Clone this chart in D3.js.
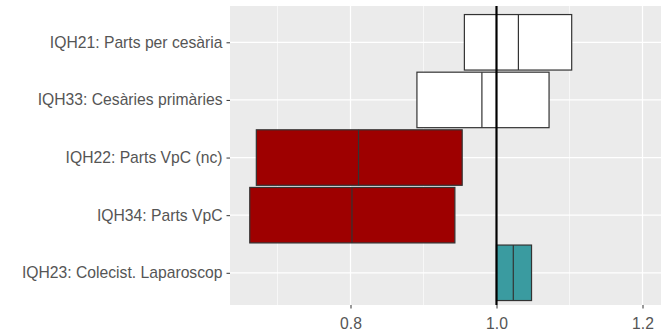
<!DOCTYPE html>
<html>
<head>
<meta charset="utf-8">
<script src="https://cdn.jsdelivr.net/npm/d3@7"></script>
<style>
  html, body { margin: 0; padding: 0; background: #ffffff; }
  svg { display: block; }
  text { font-family: "Liberation Sans", Arial, sans-serif; }
</style>
</head>
<body>
<script>
// Indicators, top to bottom
const indicators = [
  "IQH21: Parts per cesària",
  "IQH33: Cesàries primàries",
  "IQH22: Parts VpC (nc)",
  "IQH34: Parts VpC",
  "IQH23: Colecist. Laparoscop"
];
// Interval bounds and central estimate per indicator
const lower  = [0.956, 0.891, 0.671, 0.662, 1.000];
const median = [1.030, 0.980, 0.811, 0.802, 1.023];
const upper  = [1.103, 1.072, 0.953, 0.943, 1.048];
// Result class: 0 = no difference, 1 = worse, 2 = better
const status = [0, 0, 1, 1, 2];
const statusFill = ["#ffffff", "#9e0000", "#3a9ba0"];

const majorTicks = [0.8, 1.0, 1.2];
const minorTicks = [0.7, 0.9, 1.1, 1.3];
const refValue = 1.0;

const W = 661, H = 334;
const panel = { left: 230, top: 6, right: 661, bottom: 305 };

const svg = d3.select("body").append("svg")
  .attr("width", W).attr("height", H);

const x = d3.scaleLinear().domain([0.8, 1.2]).range([350.5, 642.5]);
const y = d3.scalePoint().domain(indicators).range([42.3, 272.8]);
const step = y.step();
const boxH = step * 0.963;

// panel background
svg.append("rect")
  .attr("x", panel.left).attr("y", panel.top)
  .attr("width", panel.right - panel.left)
  .attr("height", panel.bottom - panel.top)
  .attr("fill", "#ebebeb");

const grid = svg.append("g");
grid.selectAll("line.minor").data(minorTicks).join("line")
  .attr("class", "minor")
  .attr("x1", d => x(d)).attr("x2", d => x(d))
  .attr("y1", panel.top).attr("y2", panel.bottom)
  .attr("stroke", "#ffffff").attr("stroke-width", 0.6);
grid.selectAll("line.majorx").data(majorTicks).join("line")
  .attr("class", "majorx")
  .attr("x1", d => x(d)).attr("x2", d => x(d))
  .attr("y1", panel.top).attr("y2", panel.bottom)
  .attr("stroke", "#ffffff").attr("stroke-width", 1.2);
grid.selectAll("line.majory").data(indicators).join("line")
  .attr("class", "majory")
  .attr("x1", panel.left).attr("x2", panel.right)
  .attr("y1", d => y(d)).attr("y2", d => y(d))
  .attr("stroke", "#ffffff").attr("stroke-width", 1.2);

// crossbars
const rows = indicators.map((name, i) => ({
  name, lo: lower[i], mid: median[i], hi: upper[i], s: status[i]
}));
const bars = svg.append("g").selectAll("g").data(rows).join("g");
bars.append("rect")
  .attr("x", d => x(d.lo))
  .attr("y", d => y(d.name) - boxH / 2)
  .attr("width", d => x(d.hi) - x(d.lo))
  .attr("height", boxH)
  .attr("fill", d => statusFill[d.s])
  .attr("stroke", "#333333").attr("stroke-width", 1.2);
bars.append("line")
  .attr("x1", d => x(d.mid)).attr("x2", d => x(d.mid))
  .attr("y1", d => y(d.name) - boxH / 2)
  .attr("y2", d => y(d.name) + boxH / 2)
  .attr("stroke", "#333333").attr("stroke-width", 1.2);

// reference line
svg.append("line")
  .attr("x1", x(refValue)).attr("x2", x(refValue))
  .attr("y1", panel.top).attr("y2", panel.bottom)
  .attr("stroke", "#000000").attr("stroke-width", 2.2);

// x axis
const xAxis = d3.axisBottom(x).tickValues(majorTicks)
  .tickFormat(d3.format(".1f")).tickSize(3.5).tickPadding(9);
const gx = svg.append("g")
  .attr("transform", `translate(0,${panel.bottom})`)
  .call(xAxis);
gx.select(".domain").remove();
gx.selectAll(".tick line").attr("stroke", "#333333").attr("stroke-width", 1);
gx.selectAll(".tick text")
  .attr("fill", "#555555")
  .style("font-size", "15.7px")
  .style("font-family", "'Liberation Sans', Arial, sans-serif");

// y axis
const yAxis = d3.axisLeft(y).tickSize(3.5).tickPadding(4);
const gy = svg.append("g")
  .attr("transform", `translate(${panel.left},0)`)
  .call(yAxis);
gy.select(".domain").remove();
gy.selectAll(".tick line").attr("stroke", "#333333").attr("stroke-width", 1);
gy.selectAll(".tick text")
  .attr("fill", "#555555")
  .style("font-size", "15.7px")
  .style("font-family", "'Liberation Sans', Arial, sans-serif");
</script>
</body>
</html>
